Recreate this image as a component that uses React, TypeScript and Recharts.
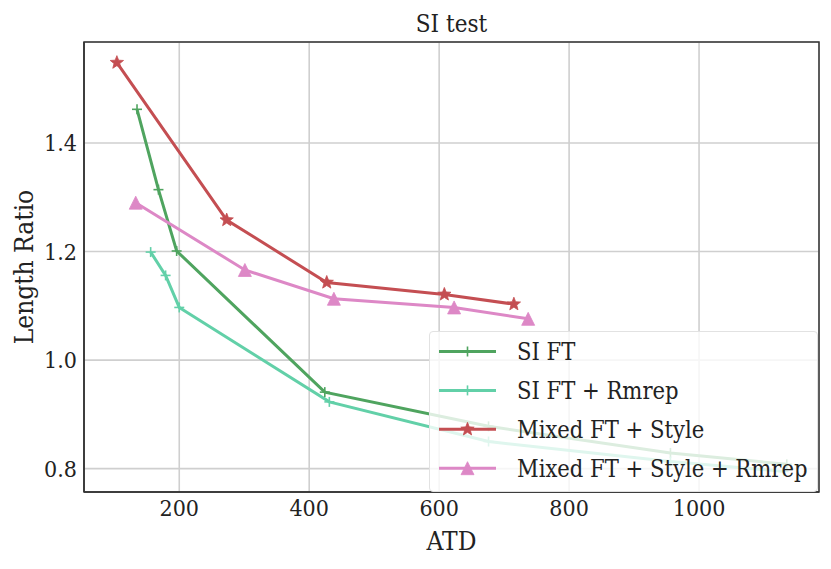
import { LineChart, Line, XAxis, YAxis, CartesianGrid, Legend, ReferenceArea } from 'recharts';

// SI FT
const siFtAtd = [135, 168, 196, 424, 676, 956, 1135];
const siFtRatio = [1.462, 1.314, 1.201, 0.941, 0.878, 0.829, 0.808];

// SI FT + Rmrep
const siFtRmrepAtd = [156, 179, 200, 431, 676, 956, 1130];
const siFtRmrepRatio = [1.199, 1.156, 1.097, 0.923, 0.85, 0.813, 0.795];

// Mixed FT + Style
const mixedAtd = [104, 273, 427, 608, 715];
const mixedRatio = [1.548, 1.258, 1.143, 1.121, 1.103];

// Mixed FT + Style + Rmrep
const mixedRmrepAtd = [133, 301, 438, 623, 737];
const mixedRmrepRatio = [1.29, 1.166, 1.113, 1.097, 1.076];

const xTicks = [200, 400, 600, 800, 1000];
const yTicks = [0.8, 1.0, 1.2, 1.4];
const X_DOMAIN: [number, number] = [53.4, 1184.6];
const Y_DOMAIN: [number, number] = [0.757, 1.586];

const FONT = "'DejaVu Serif Condensed', 'DejaVu Serif', serif";
const INK = '#222';

const toPoints = (xs: number[], ys: number[]) => xs.map((x, i) => ({ x, y: ys[i] }));

type MarkerKind = 'plus' | 'star' | 'triangle';

function Marker({ cx, cy, kind, color }: { cx: number; cy: number; kind: MarkerKind; color: string }) {
  if (kind === 'plus') {
    const r = 5;
    return (
      <g stroke={color} strokeWidth={1.6}>
        <line x1={cx - r} y1={cy} x2={cx + r} y2={cy} />
        <line x1={cx} y1={cy - r} x2={cx} y2={cy + r} />
      </g>
    );
  }
  if (kind === 'star') {
    const outer = 7;
    const inner = 3;
    const pts: string[] = [];
    for (let i = 0; i < 10; i++) {
      const r = i % 2 === 0 ? outer : inner;
      const a = -Math.PI / 2 + (i * Math.PI) / 5;
      pts.push(`${cx + r * Math.cos(a)},${cy + r * Math.sin(a)}`);
    }
    return <polygon points={pts.join(' ')} fill={color} stroke={color} strokeWidth={0.8} />;
  }
  const s = 6.5;
  return (
    <polygon
      points={`${cx},${cy - s} ${cx - s},${cy + s} ${cx + s},${cy + s}`}
      fill={color}
      stroke={color}
      strokeWidth={0.8}
    />
  );
}

const series = [
  { name: 'SI FT', color: '#4fa45f', kind: 'plus' as MarkerKind, data: toPoints(siFtAtd, siFtRatio) },
  { name: 'SI FT + Rmrep', color: '#62d0a8', kind: 'plus' as MarkerKind, data: toPoints(siFtRmrepAtd, siFtRmrepRatio) },
  { name: 'Mixed FT + Style', color: '#c44e52', kind: 'star' as MarkerKind, data: toPoints(mixedAtd, mixedRatio) },
  { name: 'Mixed FT + Style + Rmrep', color: '#dd88c6', kind: 'triangle' as MarkerKind, data: toPoints(mixedRmrepAtd, mixedRmrepRatio) },
];

function LegendBox() {
  return (
    <div
      style={{
        width: 389,
        height: 161,
        background: 'rgba(255,255,255,0.8)',
        border: '1px solid #e2e2e2',
        borderRadius: 4,
        boxSizing: 'border-box',
      }}
    >
      <svg width={389} height={161} style={{ display: 'block' }}>
        {series.map((s, i) => {
          const y = 19.5 + i * 38.9;
          return (
            <g key={s.name}>
              <line x1={9} y1={y} x2={66} y2={y} stroke={s.color} strokeWidth={3} />
              <Marker cx={37.5} cy={y} kind={s.kind} color={s.color} />
              <text x={87} y={y + 8.5} fontFamily={FONT} fontSize={23.5} fill={INK}>
                {s.name}
              </text>
            </g>
          );
        })}
      </svg>
    </div>
  );
}

function XLabel(props: any) {
  const { viewBox } = props;
  return (
    <text x={viewBox.x + viewBox.width / 2} y={542} textAnchor="middle" fontFamily={FONT} fontSize={26} fill={INK}>
      ATD
    </text>
  );
}

function YLabel(props: any) {
  const { viewBox } = props;
  const cx = 25;
  const cy = viewBox.y + viewBox.height / 2;
  return (
    <text
      x={cx}
      y={cy}
      transform={`rotate(-90, ${cx}, ${cy})`}
      textAnchor="middle"
      fontFamily={FONT}
      fontSize={26}
      fill={INK}
    >
      Length Ratio
    </text>
  );
}

export default function App() {
  return (
    <div style={{ position: 'relative', width: 815, height: 553 }}>
      <div
        style={{
          position: 'absolute',
          top: 4,
          left: 76,
          width: 735,
          textAlign: 'center',
          fontFamily: FONT,
          fontSize: 24,
          lineHeight: 1,
          color: INK,
        }}
      >
        SI test
      </div>
      <LineChart width={815} height={553} margin={{ top: 34, right: 4, bottom: 0, left: 0 }}>
        <CartesianGrid stroke="#cfcfcf" strokeWidth={1.6} />
        <XAxis
          dataKey="x"
          type="number"
          domain={X_DOMAIN}
          ticks={xTicks}
          allowDataOverflow
          height={69}
          tickSize={0}
          tickMargin={8}
          axisLine={{ stroke: '#333', strokeWidth: 1.5 }}
          tick={{ fill: INK, fontSize: 23, fontFamily: FONT }}
          label={<XLabel />}
        />
        <YAxis
          dataKey="y"
          type="number"
          domain={Y_DOMAIN}
          ticks={yTicks}
          allowDataOverflow
          width={76}
          tickSize={0}
          tickMargin={7}
          tickFormatter={(v: number) => v.toFixed(1)}
          axisLine={{ stroke: '#333', strokeWidth: 1.5 }}
          tick={{ fill: INK, fontSize: 23, fontFamily: FONT }}
          label={<YLabel />}
        />
        <ReferenceArea
          x1={X_DOMAIN[0]}
          x2={X_DOMAIN[1]}
          y1={Y_DOMAIN[0]}
          y2={Y_DOMAIN[1]}
          fill="none"
          stroke="#333"
          strokeWidth={1.5}
        />
        {series.map((s) => (
          <Line
            key={s.name}
            data={s.data}
            dataKey="y"
            name={s.name}
            type="linear"
            stroke={s.color}
            strokeWidth={3}
            isAnimationActive={false}
            dot={(p: any) => <Marker key={`${s.name}-${p.index}`} cx={p.cx} cy={p.cy} kind={s.kind} color={s.color} />}
            activeDot={false}
          />
        ))}
        <Legend
          layout="vertical"
          align="center"
          verticalAlign="middle"
          wrapperStyle={{ left: 421, top: 323, width: 389, height: 161 }}
          content={() => <LegendBox />}
        />
      </LineChart>
    </div>
  );
}
